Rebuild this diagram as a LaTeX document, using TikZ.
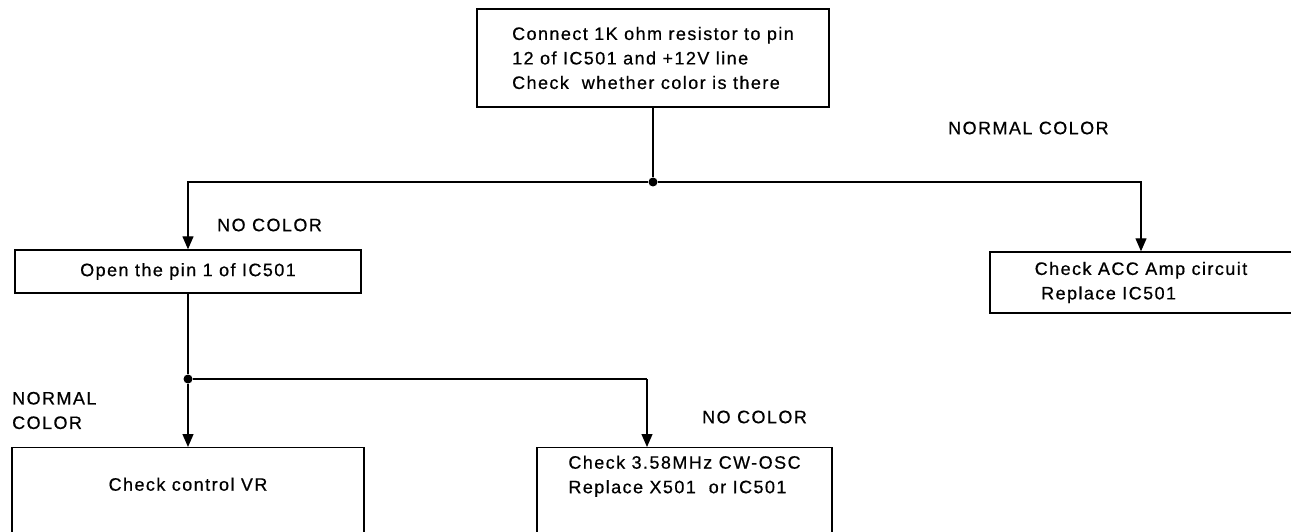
\documentclass[tikz,border=0pt]{standalone}
\usepackage{fontspec}
\setmainfont{Liberation Sans}[LetterSpace=8,FakeBold=0.6]
\usetikzlibrary{arrows.meta}
\begin{document}
\begin{tikzpicture}[x=1pt,y=-1pt,
  font=\fontsize{18}{24.5}\selectfont,
  box/.style={draw, line width=1.4pt, inner sep=0pt, align=left},
  conn/.style={line width=1.3pt},
  arr/.style={conn, -{Triangle[width=11pt,length=13pt]}},
  dot/.style={circle, fill, inner sep=0pt, minimum size=9pt},
  lbl/.style={anchor=west, inner sep=0pt, align=left}]
\path[use as bounding box] (0,0) rectangle (1291,532);
\clip (0,0) rectangle (1291,532);
% boxes
\node[box, minimum width=352pt, minimum height=98pt] (top) at (653,58)
  {Connect 1K ohm resistor to pin\\12 of IC501 and +12V line\\Check\ \ whether color is there};
\node[box, minimum width=346pt, minimum height=43pt] (open) at (188,271.5) {Open the pin 1 of IC501};
\node[box, minimum width=302pt, minimum height=61pt] (acc) at (1141,282.5)
  {Check ACC Amp circuit\\\ Replace IC501};
\node[box, anchor=north, minimum width=352pt, inner ysep=0pt, text height=43pt, text depth=90pt] (vr) at (188,447)
  {Check control VR};
\node[box, anchor=north, minimum width=295pt, inner ysep=0pt, text height=21pt, text depth=90pt] (osc) at (684.5,447)
  {\vtop{\hbox{Check 3.58MHz CW-OSC}\hbox{Replace X501\ \ or IC501}}};
% junctions
\node[dot] (j1) at (653,182) {};
\node[dot] (j2) at (188,379) {};
\coordinate (n2) at (647,379);
% connectors
\draw[conn] (top.south) -- (j1);
\draw[arr] (j1) -| (open.north);
\draw[arr] (j1) -| (acc.north);
\draw[conn] (open.south) -- (j2);
\draw[arr] (j2) -- (vr.north);
\draw[conn] (j2) -- (n2);
\draw[arr] (n2) -- (n2 |- osc.north);
% labels
\node[lbl] (lab1) at (217,225) {NO COLOR};
\node[lbl] (lab2) at (948,128) {NORMAL COLOR};
\node[lbl] (lab3) at (12,410.5) {NORMAL\\COLOR};
\node[lbl] (lab4) at (702,417) {NO COLOR};
\end{tikzpicture}
\end{document}
